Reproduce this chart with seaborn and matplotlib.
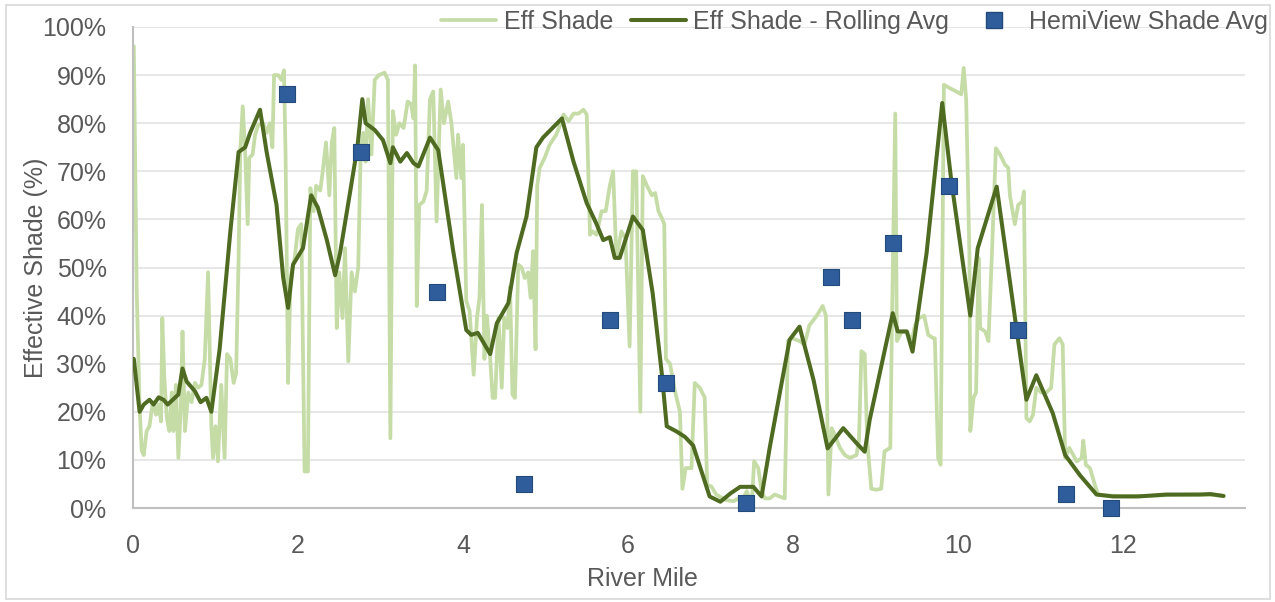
import matplotlib
matplotlib.use("Agg")
import matplotlib.pyplot as plt
from matplotlib.patches import Rectangle
from matplotlib.lines import Line2D
from matplotlib.ticker import PercentFormatter
import seaborn as sns
import pandas as pd

# ---- data (River Mile, Effective Shade %) ----
eff_mile = [0.00, 0.01, 0.045, 0.08, 0.105, 0.13, 0.165, 0.2, 0.24, 0.28, 0.31, 0.34, 0.355, 0.38, 0.41, 0.44,
            0.47, 0.49, 0.52, 0.55, 0.58, 0.6, 0.63, 0.67, 0.71, 0.75, 0.79, 0.83, 0.87, 0.91, 0.95, 0.97,
            1.0, 1.03, 1.07, 1.11, 1.14, 1.18, 1.22, 1.25, 1.28, 1.3, 1.33, 1.36, 1.39, 1.41, 1.45, 1.48,
            1.52, 1.58, 1.62, 1.66, 1.69, 1.71, 1.76, 1.8, 1.83, 1.85, 1.88, 1.91, 1.96,
            2.0, 2.04, 2.08, 2.12, 2.15, 2.19, 2.22, 2.27, 2.3, 2.34, 2.38, 2.41, 2.44, 2.47, 2.5, 2.54,
            2.57, 2.61, 2.65, 2.69, 2.73, 2.76, 2.79, 2.82, 2.85, 2.89, 2.93, 2.98, 3.05, 3.09, 3.12, 3.15,
            3.19, 3.23, 3.28, 3.33, 3.37, 3.4, 3.42, 3.44, 3.47, 3.52, 3.56, 3.6, 3.64, 3.68, 3.73, 3.77,
            3.82, 3.86, 3.92, 3.94, 3.98, 4.0, 4.04, 4.08, 4.13, 4.17, 4.2, 4.23, 4.26, 4.29, 4.33, 4.36,
            4.39, 4.43, 4.47, 4.5, 4.54, 4.57, 4.6, 4.63, 4.67, 4.71, 4.75, 4.79, 4.82, 4.85, 4.88, 4.9,
            4.93, 4.99, 5.05, 5.13, 5.18, 5.22, 5.28, 5.34, 5.4, 5.46, 5.5, 5.54, 5.57, 5.62, 5.68, 5.73,
            5.78, 5.82, 5.86, 5.92, 5.97, 6.02, 6.06, 6.1, 6.15, 6.18, 6.23, 6.29, 6.33, 6.37, 6.41, 6.44,
            6.46, 6.51, 6.57, 6.63, 6.66, 6.7, 6.77, 6.81, 6.87, 6.93, 6.96, 7.01, 7.07, 7.18, 7.28, 7.34,
            7.38, 7.44, 7.5, 7.53, 7.58, 7.62, 7.66, 7.72, 7.78, 7.84, 7.9, 7.94, 7.99, 8.08, 8.14, 8.2,
            8.29, 8.36, 8.4, 8.43, 8.47, 8.51, 8.57, 8.63, 8.69, 8.77, 8.8, 8.83, 8.87, 8.9, 8.95, 9.01,
            9.07, 9.11, 9.18, 9.2, 9.24, 9.26, 9.32, 9.38, 9.44, 9.48, 9.53, 9.59, 9.64, 9.7, 9.72, 9.76,
            9.79, 9.83, 9.9, 9.98, 10.04, 10.07, 10.1, 10.14, 10.15, 10.19, 10.22, 10.25, 10.27, 10.33, 10.37, 10.41,
            10.46, 10.51, 10.57, 10.61, 10.63, 10.69, 10.73, 10.78, 10.8, 10.83, 10.87, 10.91, 10.95, 11.01, 11.07, 11.13,
            11.17, 11.23, 11.27, 11.3, 11.35, 11.44, 11.5, 11.52, 11.55, 11.6, 11.66, 11.7, 11.8, 12.0, 12.3, 12.6,
            12.9, 13.1, 13.22]
eff_shade = [96, 96, 45, 21, 12, 11, 16, 17, 22, 19.4, 21.5, 18, 39.5, 27, 18.7, 16,
             24, 16, 25.6, 10.4, 21, 36.7, 16, 24, 22, 26, 25, 25.6, 31, 49, 17, 10.4,
             17, 9.7, 25.6, 10.4, 32, 31, 26, 28, 52, 74, 83.5, 74, 59, 72.8, 73.5, 77.6,
             79.7, 80, 78, 80, 75, 90, 90, 89, 91, 72.8, 26, 48, 52,
             58, 59, 7.6, 7.6, 66.5, 61.7, 67, 66, 70, 76, 65, 76, 79, 37.4, 49, 39.5,
             54, 30.5, 49, 45, 50, 74, 78, 72, 85, 73.5, 89, 90, 90.5, 89, 14.5, 82.5,
             77.6, 80, 79, 84.5, 84, 81, 92, 42, 63, 63.7, 66, 85, 86.6, 59.6, 87, 80,
             84.5, 80, 68.6, 77.6, 68.6, 75.5, 43, 41, 27.7, 39.5, 43.7, 63, 31, 40, 31, 22.9,
             22.9, 39.5, 25, 39.5, 37.4, 46, 23.6, 22.9, 50.6, 50, 47.8, 49, 43.7, 53.4, 33, 67,
             70.7, 72.8, 75.5, 77.6, 79.7, 81.8, 80.4, 82, 82, 82.8, 81.8, 56.8, 57.5, 56.8, 61.7, 61.7,
             67, 70, 52, 57.5, 56, 33.6, 70, 70, 20, 69, 67, 65, 65.5, 61.7, 60.3, 59,
             31, 30, 24.3, 20, 4, 8.3, 8.3, 26, 25, 23, 4.8, 4.5, 2.8, 1.7, 1.4, 2,
             1.4, 3.5, 0.7, 9.7, 8.3, 3.5, 2, 2, 2.8, 2.4, 2, 34.7, 35.3, 34.7, 34, 38,
             40, 42, 40, 2.8, 16.6, 15, 12.5, 11, 10.4, 11, 14, 32.6, 32, 14, 4, 3.8,
             4, 11.8, 12.5, 38, 82, 34.7, 36.7, 36.7, 34.7, 38, 39.5, 40, 36, 35.3, 35.3, 10.4,
             9, 88, 87.3, 86.6, 86, 91.5, 85, 52, 16, 23, 24, 52, 37.4, 36.7, 34.7, 52,
             74.8, 73.5, 71.4, 70.7, 65, 59, 63, 63.7, 65.8, 18.7, 18, 19.4, 25, 24, 24, 25,
             34, 35.3, 34, 10.4, 12.5, 9.7, 10.4, 14, 9, 8.3, 4.8, 2.8, 2.6, 2.5, 2.5, 2.7,
             2.8, 2.7, 2.5]

roll_mile = [0.01, 0.08, 0.13, 0.2, 0.25, 0.31, 0.37, 0.42, 0.55, 0.6, 0.65, 0.75, 0.82, 0.89, 0.95, 1.05,
             1.18, 1.28, 1.36, 1.42, 1.54, 1.62, 1.74, 1.82, 1.88, 1.94, 2.06, 2.16, 2.24, 2.35, 2.45, 2.51,
             2.63, 2.72, 2.78, 2.82, 2.93, 3.03, 3.12, 3.15, 3.24, 3.32, 3.4, 3.46, 3.6, 3.7, 3.88, 4.04,
             4.1, 4.18, 4.33, 4.41, 4.55, 4.65, 4.77, 4.89, 4.97, 5.2, 5.34, 5.5, 5.62, 5.7, 5.78, 5.84,
             5.9, 6.06, 6.18, 6.3, 6.41, 6.47, 6.59, 6.69, 6.79, 6.99, 7.12, 7.24, 7.36, 7.52, 7.62, 7.72,
             7.96, 8.08, 8.25, 8.42, 8.61, 8.77, 8.87, 8.93, 9.21, 9.27, 9.38, 9.45, 9.62, 9.81, 9.92, 10.15,
             10.24, 10.47, 10.83, 10.95, 11.15, 11.3, 11.48, 11.68, 11.88, 12.18, 12.53, 12.93, 13.06, 13.22]
roll_shade = [31, 20, 21.5, 22.5, 21.5, 23, 22.5, 21.5, 23.6, 29, 26.3, 24.3, 22, 22.9, 20, 33,
              57.5, 74, 75, 78, 82.8, 74, 63, 48, 41.6, 50.6, 54, 65, 62.5, 55.7, 48.4, 53,
              65.5, 75, 85, 80, 78.6, 76.5, 71.7, 75, 72, 73.8, 71.7, 71, 77, 74.4, 53.6, 37,
              36, 36.4, 32, 38.4, 42.6, 53, 60.6, 75, 77, 81, 72, 63.4, 59, 55.7, 56.3, 52,
              52, 60.6, 57.8, 44.6, 28, 17, 15.9, 14.8, 13, 2.4, 1.3, 3, 4.4, 4.4, 2.4, 12.7,
              35, 37.7, 26.6, 12.4, 16.6, 13.5, 11.7, 18.3, 40.5, 36.7, 36.7, 32.5, 53, 84.2, 68, 40,
              54, 66.8, 22.5, 27.6, 19.7, 11, 6.8, 2.8, 2.4, 2.4, 2.8, 2.8, 2.9, 2.5]

hemi_mile = [1.87, 2.76, 3.68, 4.74, 5.78, 6.46, 7.43, 8.46, 8.72, 9.21, 9.89, 10.73, 11.31, 11.86]
hemi_shade = [86, 74, 45, 5, 39, 26, 1, 48, 39, 55, 67, 37, 3, 0]

x_ticks = [0, 2, 4, 6, 8, 10, 12]
y_ticks = [0, 10, 20, 30, 40, 50, 60, 70, 80, 90, 100]

# ---- style ----
sns.set_theme(style="whitegrid")
plt.rcParams['font.family'] = ['Liberation Sans', 'DejaVu Sans']
TXT = "#595959"
LIGHT = "#c5dca6"
DARK = "#4f6b22"
BLUE = "#2f5d9b"

df_eff = pd.DataFrame({"mile": eff_mile, "shade": [v / 100 for v in eff_shade]})
df_roll = pd.DataFrame({"mile": roll_mile, "shade": [v / 100 for v in roll_shade]})
df_hemi = pd.DataFrame({"mile": hemi_mile, "shade": [v / 100 for v in hemi_shade]})

fig = plt.figure(figsize=(12.75, 6.02), dpi=100)
ax = fig.add_axes([133 / 1275, 1 - 508 / 602, 1112 / 1275, 481 / 602])

sns.lineplot(data=df_eff, x="mile", y="shade", ax=ax, color=LIGHT, lw=2.7,
             sort=False, estimator=None, zorder=2)
sns.lineplot(data=df_roll, x="mile", y="shade", ax=ax, color=DARK, lw=2.9,
             sort=False, estimator=None, zorder=3)
sns.scatterplot(data=df_hemi, x="mile", y="shade", ax=ax, marker="s", s=140,
                color=BLUE, edgecolor="#244a7c", linewidth=0.8, zorder=4, clip_on=False)

ax.set_xlim(0, 13.48)
ax.set_ylim(0, 1.0)
ax.set_xticks(x_ticks)
ax.set_yticks([v / 100 for v in y_ticks])
ax.yaxis.set_major_formatter(PercentFormatter(1.0, decimals=0))
ax.grid(axis="y", color="#e3e3e3", lw=1.2)
ax.grid(axis="x", visible=False)
for s in ["top", "right"]:
    ax.spines[s].set_visible(False)
for s in ["left", "bottom"]:
    ax.spines[s].set_visible(True)
    ax.spines[s].set_color("#bfbfbf")
    ax.spines[s].set_linewidth(1.5)
ax.tick_params(axis="both", length=0, labelsize=18, colors=TXT)
ax.tick_params(axis="y", pad=19)
ax.tick_params(axis="x", pad=19)
ax.set_xlabel("River Mile", fontsize=18, color=TXT)
ax.set_ylabel("Effective Shade (%)", fontsize=18, color=TXT)
ax.xaxis.set_label_coords(0.458, -0.122)
ax.yaxis.set_label_coords(-0.0765, 0.5)

handles = [Line2D([], [], color=LIGHT, lw=2.7),
           Line2D([], [], color=DARK, lw=2.9),
           Line2D([], [], color=BLUE, marker="s", markersize=11, lw=0,
                  markeredgecolor="#244a7c")]
labels = ["Eff Shade", "Eff Shade - Rolling Avg", "HemiView Shade Avg"]
leg = fig.legend(handles, labels, ncol=3, loc="center right",
                 bbox_to_anchor=(1268 / 1275, 1 - 22 / 602), frameon=False,
                 fontsize=18, handlelength=2.2, handletextpad=0.3,
                 columnspacing=0.7, borderpad=0, borderaxespad=0)
for t in leg.get_texts():
    t.set_color(TXT)

fig.patches.append(Rectangle((6 / 1275, 3 / 602), 1264 / 1275, 594 / 602,
                             transform=fig.transFigure, fill=False,
                             edgecolor="#d9d9d9", lw=1.2))

fig.savefig("out.png", dpi=100)
